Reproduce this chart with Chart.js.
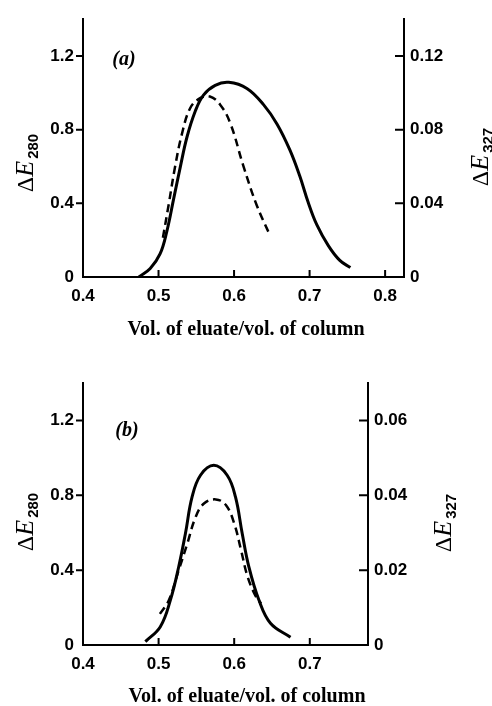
<!DOCTYPE html>
<html>
<head>
<meta charset="utf-8">
<script src="https://cdn.jsdelivr.net/npm/chart.js@4/dist/chart.umd.min.js"></script>
<style>
  html, body { margin: 0; padding: 0; background: #fff; }
  canvas { display: block; }
</style>
</head>
<body>
<canvas id="chartA" width="492" height="350"></canvas>
<canvas id="chartB" width="492" height="356"></canvas>
<script>
// panel (a)
const aSolidX = [0.474, 0.489, 0.502, 0.511, 0.520, 0.529, 0.5376, 0.5486, 0.5595, 0.575, 0.593, 0.617, 0.639, 0.657, 0.674, 0.687, 0.698, 0.7095, 0.725, 0.740, 0.754];
const aSolidY = [0, 0.046, 0.125, 0.248, 0.424, 0.601, 0.759, 0.90, 0.988, 1.041, 1.057, 1.024, 0.936, 0.830, 0.689, 0.548, 0.407, 0.284, 0.169, 0.090, 0.051];
const aDashX = [0.5058, 0.5133, 0.522, 0.531, 0.542, 0.555, 0.568, 0.5816, 0.595, 0.6125, 0.630, 0.648];
const aDashY = [0.0213, 0.039, 0.0601, 0.0777, 0.0918, 0.0971, 0.098, 0.0936, 0.0835, 0.0601, 0.039, 0.0222];
const aXTicks = [0.4, 0.5, 0.6, 0.7, 0.8];
const aLeftTicks = [0, 0.4, 0.8, 1.2];
const aRightTicks = [0, 0.04, 0.08, 0.12];

// panel (b)
const bSolidX = [0.4825, 0.5023, 0.5156, 0.5266, 0.5355, 0.5443, 0.5554, 0.573, 0.5907, 0.6017, 0.6106, 0.6194, 0.6327, 0.648, 0.6745];
const bSolidY = [0.018, 0.098, 0.24, 0.418, 0.596, 0.791, 0.907, 0.96, 0.907, 0.791, 0.596, 0.418, 0.24, 0.116, 0.041];
const bDashX = [0.5017, 0.5137, 0.5266, 0.538, 0.549, 0.560, 0.5757, 0.589, 0.600, 0.609, 0.6178, 0.6288, 0.6355];
const bDashY = [0.0083, 0.012, 0.020, 0.0271, 0.0342, 0.0378, 0.0389, 0.0374, 0.0325, 0.0254, 0.0182, 0.0129, 0.0111];
const bXTicks = [0.4, 0.5, 0.6, 0.7];
const bLeftTicks = [0, 0.4, 0.8, 1.2];
const bRightTicks = [0, 0.02, 0.04, 0.06];

const xTitle = 'Vol. of eluate/vol. of column';
const tickFont = { family: 'Liberation Sans', size: 17, weight: 'bold' };

const pts = (xs, ys) => xs.map((x, i) => ({ x: x, y: ys[i] }));
const fmt = v => (v === 0 ? '0' : String(v));

function drawSubLabel(ctx, cx, cy, sub) {
  ctx.save();
  ctx.translate(cx, cy);
  ctx.rotate(-Math.PI / 2);
  ctx.fillStyle = '#000';
  ctx.textBaseline = 'alphabetic';
  const f1 = '24px "Liberation Serif"', f2 = 'italic 26px "Liberation Serif"', f3 = 'bold 15px "Liberation Sans"';
  ctx.font = f1; const w1 = ctx.measureText('\u0394').width;
  ctx.font = f2; const w2 = ctx.measureText('E').width;
  ctx.font = f3; const w3 = ctx.measureText(sub).width;
  let x = -(w1 + w2 + w3 + 2) / 2;
  ctx.font = f1; ctx.fillText('\u0394', x, 8); x += w1;
  ctx.font = f2; ctx.fillText('E', x, 8); x += w2 + 2;
  ctx.font = f3; ctx.fillText(sub, x, 13);
  ctx.restore();
}

const decor = {
  id: 'decor',
  afterDraw(chart, args, o) {
    const { ctx } = chart;
    const x = chart.scales.x, y = chart.scales.y, y2 = chart.scales.y2;
    ctx.save();
    ctx.strokeStyle = '#000';
    ctx.lineWidth = 2;
    ctx.beginPath();
    y.ticks.forEach(t => {
      if (!t.value) return;
      const p = y.getPixelForValue(t.value);
      ctx.moveTo(y.right - 7, p); ctx.lineTo(y.right, p);
    });
    y2.ticks.forEach(t => {
      if (!t.value) return;
      const p = y2.getPixelForValue(t.value);
      ctx.moveTo(y2.left - 9, p); ctx.lineTo(y2.left, p);
    });
    x.ticks.forEach(t => {
      if (t.value <= x.min) return;
      const p = x.getPixelForValue(t.value);
      ctx.moveTo(p, x.top); ctx.lineTo(p, x.top - 7);
    });
    ctx.stroke();

    drawSubLabel(ctx, o.leftLabel[0], o.leftLabel[1], '280');
    drawSubLabel(ctx, o.rightLabel[0], o.rightLabel[1], '327');

    ctx.fillStyle = '#000';
    ctx.textAlign = 'center';
    ctx.textBaseline = 'middle';
    ctx.font = 'bold 20px "Liberation Serif"';
    ctx.fillText(xTitle, o.title[0], o.title[1]);
    ctx.font = 'italic bold 20px "Liberation Serif"';
    ctx.fillText(o.tag, o.tagPos[0], o.tagPos[1]);
    ctx.restore();
  }
};

function makeChart(id, cfg) {
  const setTicks = list => scale => { scale.ticks = list.map(v => ({ value: v })); };
  return new Chart(document.getElementById(id), {
    type: 'line',
    data: {
      datasets: [
        {
          data: pts(cfg.solidX, cfg.solidY),
          yAxisID: 'y',
          borderColor: '#000',
          borderWidth: 3,
          pointRadius: 0,
          tension: 0.4,
          fill: false
        },
        {
          data: pts(cfg.dashX, cfg.dashY),
          yAxisID: 'y2',
          borderColor: '#000',
          borderWidth: 2.5,
          borderDash: [8, 5],
          pointRadius: 0,
          tension: 0.4,
          fill: false
        }
      ]
    },
    options: {
      responsive: false,
      animation: false,
      layout: { padding: { top: cfg.top, left: 0, right: 0, bottom: 0 } },
      plugins: { legend: { display: false }, tooltip: { enabled: false }, decor: cfg.decor },
      scales: {
        x: {
          type: 'linear',
          min: 0.4,
          max: cfg.xMax,
          grid: { display: false, drawTicks: false },
          border: { display: true, color: '#000', width: 2 },
          afterBuildTicks: setTicks(cfg.xTicks),
          afterFit: s => { s.height = cfg.xHeight; },
          ticks: { color: '#000', font: tickFont, padding: 9, maxRotation: 0, autoSkip: false, callback: v => fmt(v) }
        },
        y: {
          position: 'left',
          min: 0,
          max: 1.4,
          grid: { display: false, drawTicks: false },
          border: { display: true, color: '#000', width: 2 },
          afterBuildTicks: setTicks(cfg.leftTicks),
          afterFit: s => { s.width = 83; },
          ticks: { color: '#000', font: tickFont, padding: 9, autoSkip: false, callback: v => fmt(v) }
        },
        y2: {
          position: 'right',
          min: 0,
          max: cfg.rightMax,
          grid: { display: false, drawTicks: false },
          border: { display: true, color: '#000', width: 2 },
          afterBuildTicks: setTicks(cfg.rightTicks),
          afterFit: s => { s.width = cfg.rightWidth; },
          ticks: { color: '#000', font: tickFont, padding: 6, autoSkip: false, callback: v => fmt(v) }
        }
      }
    },
    plugins: [decor]
  });
}

makeChart('chartA', {
  solidX: aSolidX, solidY: aSolidY, dashX: aDashX, dashY: aDashY,
  xTicks: aXTicks, leftTicks: aLeftTicks, rightTicks: aRightTicks,
  xMax: 0.825, rightMax: 0.14, top: 13, xHeight: 73, rightWidth: 88,
  decor: { leftLabel: [25, 163], rightLabel: [480, 157], title: [246, 330], tag: '(a)', tagPos: [124, 60] }
});

makeChart('chartB', {
  solidX: bSolidX, solidY: bSolidY, dashX: bDashX, dashY: bDashY,
  xTicks: bXTicks, leftTicks: bLeftTicks, rightTicks: bRightTicks,
  xMax: 0.777, rightMax: 0.07, top: 33, xHeight: 61, rightWidth: 124,
  decor: { leftLabel: [25, 172], rightLabel: [443, 173], title: [247, 347], tag: '(b)', tagPos: [127, 81] }
});
</script>
</body>
</html>
